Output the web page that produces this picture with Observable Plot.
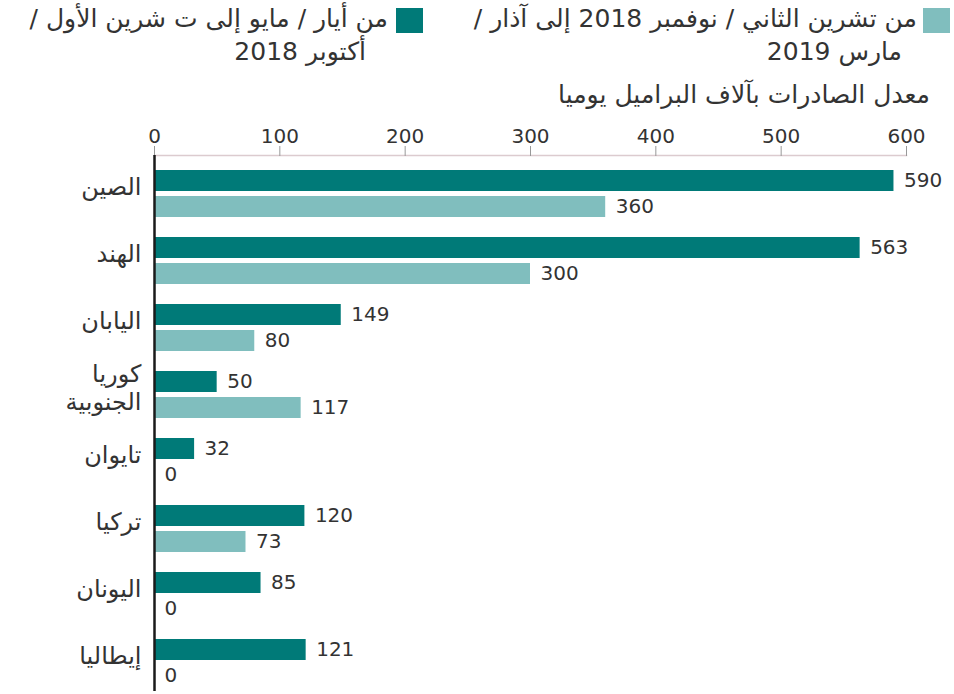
<!DOCTYPE html>
<html><head><meta charset="utf-8">
<script src="https://cdn.jsdelivr.net/npm/d3@7"></script>
<script src="https://cdn.jsdelivr.net/npm/@observablehq/plot@0.6"></script>
<style>
body{margin:0;background:#fff;font-family:"DejaVu Sans",sans-serif;color:#333}
#wrap{position:relative;width:954px;height:694px;overflow:hidden;background:#fff}
.item{position:absolute;top:2px;direction:rtl;font-size:25px;line-height:33px;white-space:nowrap;text-align:right;color:#333}
.sw{position:absolute;top:8px;width:27px;height:25px}
.l2{display:block}
#sub{position:absolute;top:78px;right:24px;direction:rtl;font-size:25px;line-height:33px;white-space:nowrap;color:#333}
#chart{position:absolute;top:110px;left:0}
</style></head>
<body>
<div id="wrap">
  <div id="legend"></div>
  <div id="sub"></div>
  <div id="chart"></div>
</div>
<script>
const countries = ["الصين","الهند","اليابان","كوريا الجنوبية","تايوان","تركيا","اليونان","إيطاليا"];
const mayOct = [590,563,149,50,32,120,85,121];
const novMar = [360,300,80,117,0,73,0,0];
const periods = ["من أيار / مايو إلى ت شرين الأول / أكتوبر 2018","من تشرين الثاني / نوفمبر 2018 إلى آذار / مارس 2019"];
const periodLines = [["من أيار / مايو إلى ت شرين الأول /","أكتوبر 2018"],["من تشرين الثاني / نوفمبر 2018 إلى آذار /","مارس 2019"]];
const colors = ["#007a78","#80bebe"];
const xTicks = [0,100,200,300,400,500,600];
const subtitle = "معدل الصادرات بآلاف البراميل يوميا";

// legend (HTML)
const legendPos = [{sw:396, right:566, indent:22},{sw:923, right:37, indent:15}];
const legend = document.getElementById("legend");
periods.forEach((p,i)=>{
  const sw = document.createElement("div");
  sw.className="sw"; sw.style.left=legendPos[i].sw+"px"; sw.style.background=colors[i];
  legend.appendChild(sw);
  const it = document.createElement("div");
  it.className="item"; it.style.right=legendPos[i].right+"px";
  it.innerHTML = `<span class="l2">${periodLines[i][0]}</span><span class="l2" style="margin-right:${legendPos[i].indent}px">${periodLines[i][1]}</span>`;
  legend.appendChild(it);
});
document.getElementById("sub").textContent = subtitle;

const data = countries.flatMap((c,i)=>[
  {country:c, period:periods[0], value:mayOct[i]},
  {country:c, period:periods[1], value:novMar[i]}
]);

const chart = Plot.plot({
  width:954, height:584,
  marginTop:43, marginBottom:2, marginLeft:154, marginRight:48,
  style:{fontFamily:"DejaVu Sans, sans-serif", fontSize:"20px", color:"#333", background:"#fff"},
  x:{domain:[0,600], axis:null},
  y:{domain:periods, paddingInner:0.185, paddingOuter:0.341, align:0.76, axis:null},
  fy:{domain:countries, padding:0, axis:null},
  color:{domain:periods, range:colors},
  marks:[
    Plot.frame({anchor:"top", facet:"super", stroke:"#dccbcf", strokeWidth:1.5}),
    Plot.axisX({anchor:"top", ticks:xTicks, tickSize:10, tickPadding:3, stroke:"#999", fill:"#333", fontSize:20, letterSpacing:1, label:null}),
    Plot.axisFy({anchor:"left", tickSize:0, tickPadding:13, fontSize:24, fill:"#333", label:null, dy:-3, tickFormat:d=>d.replace(" ","\n"), lineHeight:1.15}),
    Plot.barX(data,{x:"value", y:"period", fy:"country", fill:"period"}),
    Plot.text(data,{x:"value", y:"period", fy:"country", text:d=>String(d.value), dx:10, textAnchor:"start", fontSize:20, letterSpacing:1, fill:"#333"}),
    Plot.ruleX([0],{stroke:"#1a1a1a", strokeWidth:2.5})
  ]
});
document.getElementById("chart").appendChild(chart);
</script>
</body></html>
